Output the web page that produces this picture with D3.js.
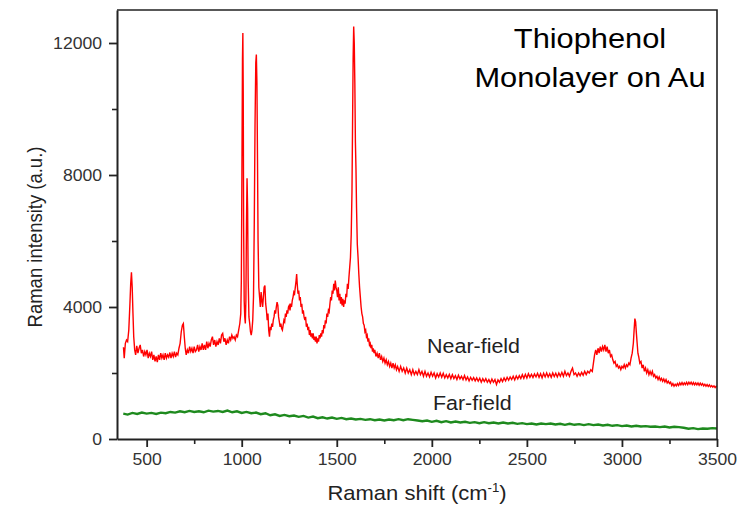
<html lang="en">
<head>
<meta charset="utf-8">
<title>Thiophenol Raman</title>
<script src="https://d3js.org/d3.v7.min.js"></script>
<style>
  body { margin: 0; background: #fff; }
  text { font-family: "Liberation Sans", Arial, sans-serif; }
</style>
</head>
<body>
<div class="chart"></div>
<script>
// near-field spectrum [shift cm-1, intensity]
const nearField = [
  [378,2780],[382,2450],[388,2900],[394,3000],[400,2950],[406,3300],[412,4100],[416,4700],[420,5050],[424,4600],
  [428,3800],[432,3100],[437,2700],[442,2550],[448,2820],[454,2600],[460,2750],[466,2850],[472,2600],[478,2700],
  [484,2500],[490,2650],[496,2550],[502,2700],[508,2450],[514,2600],[520,2500],[526,2650],[532,2400],[538,2550],
  [544,2350],[550,2500],[556,2330],[562,2550],[568,2400],[574,2600],[580,2450],[586,2550],[592,2400],[598,2600],
  [604,2450],[610,2550],[616,2480],[622,2620],[628,2450],[634,2600],[640,2500],[646,2650],[652,2480],[658,2600],
  [664,2550],[670,2750],[676,2900],[682,3250],[688,3450],[693,3500],[698,3100],[703,2750],[708,2550],[714,2700],
  [720,2600],[726,2800],[732,2650],[738,2750],[744,2600],[750,2800],[756,2650],[762,2700],[768,2850],[774,2650],
  [780,2800],[786,2700],[792,2900],[798,2700],[804,2850],[810,2700],[816,2950],[822,2750],[828,2900],[834,2800],
  [840,3000],[846,3100],[852,2850],[858,3000],[864,2800],[870,2950],[876,2850],[882,3050],[888,2900],[894,3150],
  [900,3200],[906,2950],[912,3050],[918,2850],[924,3000],[930,2900],[936,3100],[942,3000],[948,3150],[954,3050],
  [960,3100],[966,3000],[972,3150],[978,3100],[984,3300],[990,3500],[995,3800],[998,4800],[1001,8000],[1004,11500],
  [1006,12300],[1008,10500],[1010,6500],[1013,4200],[1016,3700],[1019,3500],[1022,4200],[1025,6500],[1028,7900],[1031,7000],
  [1034,4800],[1038,3700],[1042,3500],[1046,3250],[1050,3150],[1054,3300],[1058,3600],[1062,4300],[1066,6500],[1070,9500],
  [1074,11400],[1077,11650],[1080,10800],[1083,8500],[1086,6000],[1090,4600],[1094,4300],[1098,4000],[1102,4450],[1106,4200],
  [1110,4000],[1114,4300],[1118,4600],[1122,4650],[1126,4100],[1130,3900],[1134,3600],[1138,3800],[1142,3300],[1146,3100],
  [1150,3400],[1154,3300],[1158,3500],[1162,3400],[1166,3600],[1170,3700],[1174,3900],[1178,3800],[1182,4000],[1186,4150],
  [1190,4050],[1194,3700],[1198,3550],[1202,3400],[1206,3500],[1210,3350],[1214,3300],[1218,3450],[1222,3600],[1226,3550],
  [1230,3800],[1234,3700],[1238,3900],[1242,3800],[1246,4000],[1250,4050],[1254,3900],[1258,4100],[1262,4000],[1266,4200],
  [1270,4300],[1274,4450],[1278,4400],[1282,4600],[1286,4800],[1289,5000],[1292,4700],[1296,4400],[1300,4500],[1304,4200],
  [1308,4300],[1312,4000],[1316,4100],[1320,3800],[1324,3900],[1328,3700],[1332,3600],[1336,3700],[1340,3400],[1344,3500],
  [1348,3300],[1352,3400],[1356,3150],[1360,3300],[1364,3100],[1368,3200],[1372,3050],[1376,3200],[1380,3000],[1384,3100],
  [1388,2950],[1392,3100],[1396,2900],[1400,3050],[1404,2950],[1408,3150],[1412,3050],[1416,3200],[1420,3100],[1424,3300],
  [1428,3200],[1432,3450],[1436,3350],[1440,3600],[1444,3500],[1448,3800],[1452,3700],[1456,3900],[1460,3850],[1464,4100],
  [1468,4300],[1472,4200],[1476,4500],[1480,4400],[1484,4700],[1488,4500],[1492,4800],[1496,4600],[1500,4500],[1504,4300],
  [1508,4600],[1512,4200],[1516,4400],[1520,4100],[1524,4300],[1528,4050],[1532,4250],[1536,4000],[1540,4200],[1544,4100],
  [1548,4400],[1552,4300],[1556,4700],[1560,4550],[1564,4900],[1568,5200],[1572,5500],[1576,6200],[1580,7500],[1583,9500],
  [1586,11500],[1589,12500],[1592,12000],[1595,10800],[1598,9000],[1601,8200],[1604,7000],[1608,5900],[1612,5500],[1616,5000],
  [1620,4600],[1624,4300],[1628,4000],[1632,3800],[1636,3700],[1640,3500],[1644,3450],[1648,3250],[1652,3300],[1656,3100],
  [1660,3150],[1664,2950],[1668,3050],[1672,2850],[1676,2900],[1680,2750],[1684,2850],[1688,2650],[1692,2750],[1696,2600],
  [1700,2700],[1706,2500],[1712,2600],[1718,2450],[1724,2600],[1730,2400],[1736,2500],[1742,2350],[1748,2450],[1754,2300],
  [1760,2400],[1766,2250],[1772,2350],[1778,2200],[1784,2300],[1790,2150],[1796,2300],[1802,2150],[1808,2250],[1814,2100],
  [1820,2200],[1828,2050],[1836,2200],[1844,2050],[1852,2150],[1860,2000],[1868,2150],[1876,2000],[1884,2100],[1892,1950],
  [1900,2100],[1908,1950],[1916,2050],[1924,1950],[1932,2100],[1940,1950],[1948,2050],[1956,1900],[1964,2050],[1972,1900],
  [1980,2000],[1988,1880],[1996,2020],[2004,1900],[2012,2000],[2020,1850],[2028,1980],[2036,1880],[2044,2000],[2052,1870],
  [2060,1990],[2068,1850],[2076,1950],[2084,1850],[2092,1960],[2100,1830],[2108,1950],[2116,1830],[2124,1920],[2132,1800],
  [2140,1930],[2148,1820],[2156,1900],[2164,1800],[2172,1920],[2180,1790],[2188,1880],[2196,1760],[2204,1870],[2212,1780],
  [2220,1860],[2228,1760],[2236,1850],[2244,1750],[2252,1840],[2260,1720],[2268,1830],[2276,1740],[2284,1830],[2292,1720],
  [2300,1800],[2308,1700],[2316,1820],[2324,1720],[2332,1800],[2340,1650],[2348,1790],[2356,1720],[2364,1830],[2372,1740],
  [2380,1850],[2388,1760],[2396,1870],[2404,1780],[2412,1880],[2420,1800],[2428,1900],[2436,1790],[2444,1910],[2452,1820],
  [2460,1920],[2468,1830],[2476,1950],[2484,1840],[2492,1960],[2500,1850],[2508,1980],[2516,1870],[2524,1960],[2532,1860],
  [2540,1970],[2548,1880],[2556,1990],[2564,1870],[2572,1980],[2580,1850],[2588,1990],[2596,1880],[2604,2000],[2612,1880],
  [2620,1980],[2628,1870],[2636,2000],[2644,1890],[2652,1990],[2660,1880],[2668,2000],[2676,1900],[2684,2020],[2692,1900],
  [2700,2050],[2708,1920],[2716,2000],[2724,1900],[2732,2050],[2740,2150],[2748,1950],[2756,2000],[2764,1900],[2772,2000],
  [2780,1920],[2788,2020],[2796,1930],[2804,2050],[2812,1950],[2820,2050],[2828,2000],[2836,2100],[2844,2050],[2850,2300],
  [2856,2550],[2862,2700],[2868,2550],[2874,2750],[2880,2600],[2886,2800],[2892,2650],[2898,2800],[2904,2700],[2910,2850],
  [2916,2650],[2922,2800],[2928,2600],[2934,2700],[2940,2500],[2946,2550],[2952,2400],[2958,2300],[2964,2350],[2970,2200],
  [2976,2250],[2982,2150],[2988,2200],[2994,2100],[3000,2200],[3006,2150],[3012,2250],[3018,2150],[3024,2250],[3030,2200],
  [3036,2300],[3042,2250],[3048,2450],[3054,2600],[3060,2900],[3064,3300],[3068,3650],[3072,3550],[3076,3200],[3080,2900],
  [3084,2600],[3088,2500],[3094,2300],[3100,2350],[3106,2150],[3112,2250],[3118,2050],[3124,2150],[3130,2000],[3136,2100],
  [3142,1950],[3148,2050],[3154,1950],[3160,2050],[3166,1900],[3172,1950],[3178,1850],[3184,1900],[3190,1800],[3196,1880],
  [3202,1780],[3208,1840],[3214,1750],[3220,1820],[3226,1730],[3232,1800],[3238,1700],[3244,1750],[3250,1680],[3256,1720],
  [3262,1620],[3268,1680],[3274,1600],[3280,1660],[3286,1610],[3292,1680],[3298,1620],[3304,1700],[3310,1640],[3316,1710],
  [3322,1640],[3328,1700],[3334,1650],[3340,1720],[3346,1650],[3352,1720],[3358,1660],[3364,1720],[3370,1650],[3376,1710],
  [3382,1640],[3388,1700],[3394,1640],[3400,1700],[3406,1630],[3412,1690],[3418,1630],[3424,1680],[3430,1610],[3436,1660],
  [3442,1600],[3448,1650],[3454,1590],[3460,1640],[3466,1580],[3472,1620],[3478,1570],[3484,1610],[3490,1560],[3496,1600],
  [3500,1580]
];

// far-field spectrum
const farField = [
  [377,770],[400,740],[425,790],[450,760],[475,800],[500,770],[525,790],[550,760],[575,800],[600,780],
  [625,820],[650,800],[675,840],[700,810],[725,850],[750,820],[775,840],[800,810],[825,860],[850,830],
  [875,850],[900,820],[925,860],[950,810],[975,840],[1000,790],[1025,820],[1050,780],[1075,800],[1100,750],
  [1125,780],[1150,720],[1175,750],[1200,700],[1225,730],[1250,690],[1275,710],[1300,670],[1325,700],[1350,650],
  [1375,680],[1400,630],[1425,660],[1450,620],[1475,650],[1500,610],[1525,640],[1550,600],[1575,620],[1600,590],
  [1625,610],[1650,580],[1675,600],[1700,570],[1725,590],[1750,560],[1775,590],[1800,570],[1825,600],[1850,570],
  [1875,600],[1900,580],[1925,560],[1950,540],[1975,560],[2000,520],[2025,550],[2050,510],[2075,540],[2100,500],
  [2125,530],[2150,500],[2175,520],[2200,490],[2225,510],[2250,480],[2275,510],[2300,480],[2325,500],[2350,470],
  [2375,500],[2400,470],[2425,490],[2450,460],[2475,480],[2500,450],[2525,470],[2550,440],[2575,470],[2600,450],
  [2625,470],[2650,440],[2675,460],[2700,430],[2725,460],[2750,430],[2775,450],[2800,420],[2825,450],[2850,420],
  [2875,440],[2900,410],[2925,430],[2950,400],[2975,420],[3000,390],[3025,410],[3050,380],[3075,400],[3100,380],
  [3125,390],[3150,370],[3175,380],[3200,360],[3225,380],[3250,350],[3275,370],[3300,360],[3325,340],[3350,310],
  [3375,330],[3400,300],[3425,320],[3450,310],[3475,330],[3500,320]
];

const xTicks = [500, 1000, 1500, 2000, 2500, 3000, 3500];
const xMinorTicks = [750, 1250, 1750, 2250, 2750, 3250];
const yTicks = [0, 4000, 8000, 12000];
const yMinorTicks = [2000, 6000, 10000];

const width = 747, height = 506;
const plotLeft = 117, plotRight = 717, plotTop = 10, plotBottom = 439;
const stretch = 1.1; // the original's text looks slightly wide

const svg = d3.select('.chart').append('svg')
    .attr('width', width)
    .attr('height', height);

const x = d3.scaleLinear().domain([344, 3500]).range([plotLeft, plotRight]);
const y = d3.scaleLinear().domain([0, 13000]).range([plotBottom, plotTop]);

svg.append('clipPath').attr('id', 'plot')
  .append('rect')
    .attr('x', plotLeft).attr('y', plotTop)
    .attr('width', plotRight - plotLeft).attr('height', plotBottom - plotTop);

const line = d3.line().x(d => x(d[0])).y(d => y(d[1]));

svg.append('path')
    .datum(farField)
    .attr('clip-path', 'url(#plot)')
    .attr('d', line)
    .attr('fill', 'none')
    .attr('stroke', '#1e8a1e')
    .attr('stroke-width', 2.4);

svg.append('path')
    .datum(nearField)
    .attr('clip-path', 'url(#plot)')
    .attr('d', line)
    .attr('fill', 'none')
    .attr('stroke', '#ff0000')
    .attr('stroke-width', 1.4);

// frame, top and right
svg.append('path')
    .attr('d', `M${plotLeft},${plotTop}H${plotRight}V${plotBottom}`)
    .attr('fill', 'none')
    .attr('stroke', '#222')
    .attr('stroke-width', 1.6);

// minor ticks first, then the main axes
svg.append('g')
    .attr('transform', `translate(0,${plotBottom})`)
    .call(d3.axisBottom(x).tickValues(xMinorTicks).tickSize(5).tickFormat(''))
    .call(g => g.select('.domain').remove())
    .selectAll('line').attr('stroke', '#222').attr('stroke-width', 1.6);

svg.append('g')
    .attr('transform', `translate(${plotLeft},0)`)
    .call(d3.axisLeft(y).tickValues(yMinorTicks).tickSize(5).tickFormat(''))
    .call(g => g.select('.domain').remove())
    .selectAll('line').attr('stroke', '#222').attr('stroke-width', 1.6);

const xAxis = svg.append('g')
    .attr('transform', `translate(0,${plotBottom})`)
    .call(d3.axisBottom(x).tickValues(xTicks).tickSize(8).tickSizeOuter(0).tickPadding(7).tickFormat(d3.format('d')));

const yAxis = svg.append('g')
    .attr('transform', `translate(${plotLeft},0)`)
    .call(d3.axisLeft(y).tickValues(yTicks).tickSize(8).tickSizeOuter(0).tickPadding(7).tickFormat(d3.format('d')));

[xAxis, yAxis].forEach(g => {
    g.select('.domain').attr('stroke', '#222').attr('stroke-width', 2);
    g.selectAll('line').attr('stroke', '#222').attr('stroke-width', 1.8);
    g.selectAll('text')
        .attr('fill', '#333')
        .attr('font-size', '16px')
        .attr('font-family', '"Liberation Sans", Arial, sans-serif')
        .attr('transform', `scale(${stretch},1)`);
});
yAxis.selectAll('text').attr('x', -15 / stretch);

// axis titles
svg.append('text')
    .attr('transform', `translate(42,237) scale(${stretch},1) rotate(-90)`)
    .attr('text-anchor', 'middle')
    .attr('font-size', '18.5px')
    .attr('fill', '#222')
    .text('Raman intensity (a.u.)');

const xt = svg.append('text')
    .attr('transform', `translate(417,500) scale(${stretch},1)`)
    .attr('text-anchor', 'middle')
    .attr('font-size', '20px')
    .attr('fill', '#222');
xt.append('tspan').text('Raman shift (cm');
xt.append('tspan').attr('dy', -8).attr('font-size', '12px').text('-1');
xt.append('tspan').attr('dy', 8).text(')');

// title in the corner
const titleLines = ['Thiophenol', 'Monolayer on Au'];
svg.selectAll('.title')
    .data(titleLines)
    .enter()
    .append('text')
    .attr('class', 'title')
    .attr('transform', (d, i) => `translate(590,${48 + i * 39}) scale(${stretch},1)`)
    .attr('text-anchor', 'middle')
    .attr('font-size', '28px')
    .attr('fill', '#000')
    .text(d => d);

// series labels
const seriesLabels = [
    {name: 'Near-field', shift: 1975, value: 2610},
    {name: 'Far-field', shift: 2006, value: 880}
];
svg.selectAll('.series-label')
    .data(seriesLabels)
    .enter()
    .append('text')
    .attr('class', 'series-label')
    .attr('transform', d => `translate(${x(d.shift)},${y(d.value)}) scale(${stretch},1)`)
    .attr('font-size', '19.5px')
    .attr('fill', '#222')
    .text(d => d.name);
</script>
</body>
</html>
